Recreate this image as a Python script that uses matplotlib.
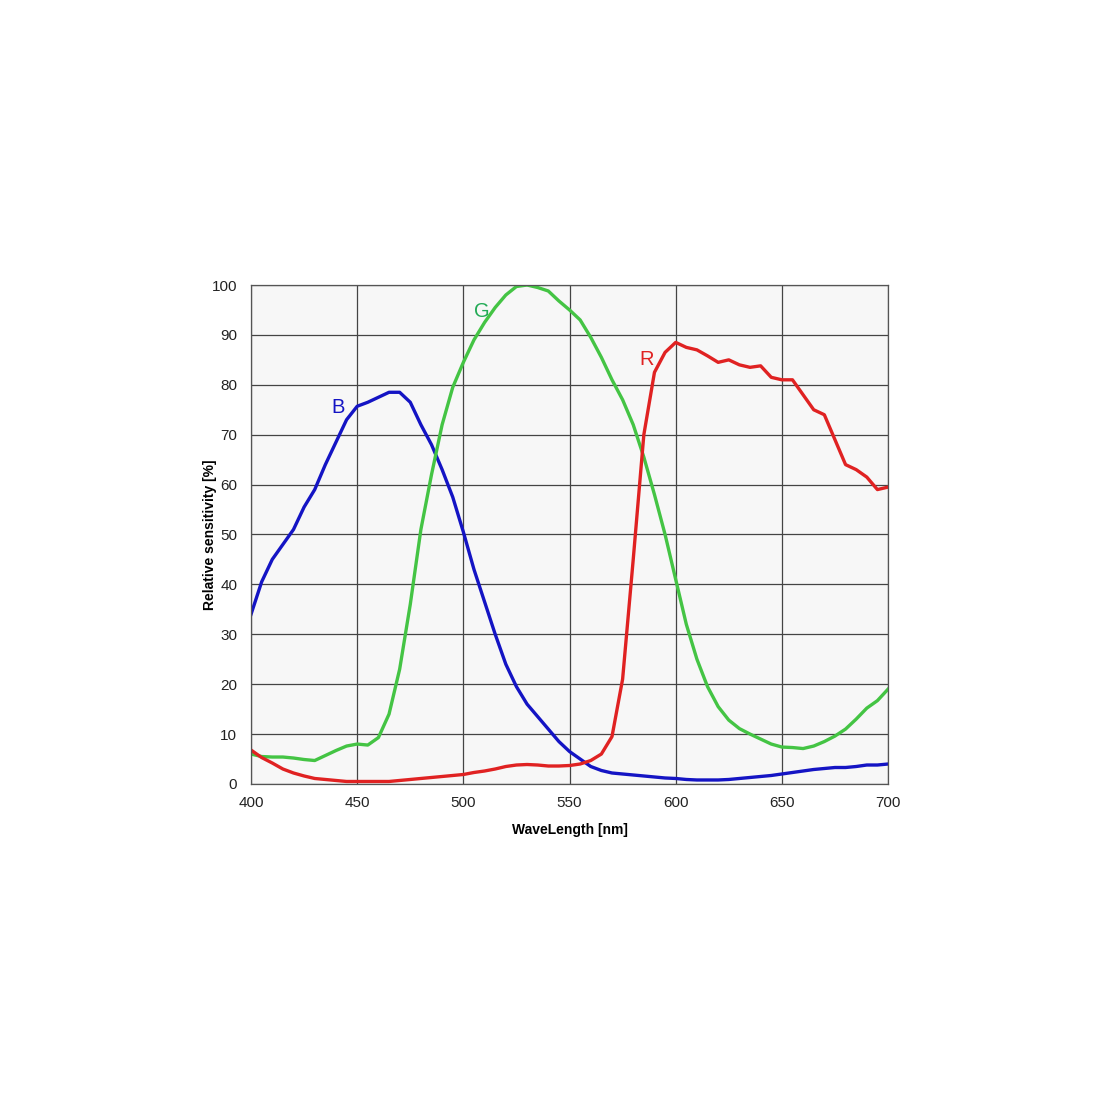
import matplotlib.pyplot as plt

plt.rcParams['font.family'] = ['Liberation Sans', 'DejaVu Sans']

# wavelength grid, 5 nm steps
wl = list(range(400, 701, 5))

# values (%)
blue = [34, 40.5, 45, 48, 51, 55.5, 59, 64, 68.5, 73, 75.7, 76.5, 77.5, 78.5, 78.5, 76.5,
        72, 68, 63, 57.5, 50.5, 43, 36.5, 30, 24, 19.5, 16, 13.5, 11, 8.5, 6.5, 5, 3.5,
        2.7, 2.2, 2.0, 1.8, 1.6, 1.4, 1.2, 1.1, 0.9, 0.8, 0.8, 0.8, 0.9, 1.1, 1.3, 1.5,
        1.7, 2.0, 2.3, 2.6, 2.9, 3.1, 3.3, 3.3, 3.5, 3.8, 3.8, 4.0]
green = [6, 5.5, 5.4, 5.4, 5.2, 4.9, 4.7, 5.7, 6.7, 7.6, 8.0, 7.8, 9.3, 14, 23, 36, 51, 62,
         72, 79.5, 84.5, 89, 92.5, 95.5, 98, 99.7, 100, 99.5, 98.8, 96.8, 95, 93, 89.5,
         85.5, 81, 77, 72, 65.5, 58, 50, 41, 32, 25, 19.5, 15.5, 12.8, 11.1, 10, 9, 8,
         7.4, 7.3, 7.1, 7.6, 8.5, 9.6, 11, 13, 15.2, 16.7, 19]
red = [6.8, 5.3, 4.2, 3, 2.2, 1.6, 1.1, 0.9, 0.7, 0.5, 0.5, 0.5, 0.5, 0.5, 0.7, 0.9, 1.1,
       1.3, 1.5, 1.7, 1.9, 2.3, 2.6, 3.0, 3.5, 3.8, 3.9, 3.8, 3.6, 3.6, 3.7, 4.0, 4.7,
       6.0, 9.5, 21, 45, 70, 82.5, 86.5, 88.5, 87.5, 87, 85.8, 84.5, 85, 84, 83.5, 83.8,
       81.5, 81, 81, 78, 75, 74, 69, 64, 63, 61.5, 59, 59.5]

x_ticks = [400, 450, 500, 550, 600, 650, 700]
y_ticks = list(range(0, 101, 10))

fig = plt.figure(figsize=(11, 11), dpi=100)
ax = fig.add_axes([0.2282, 0.2873, 0.5791, 0.4536])
ax.set_facecolor('#f7f7f7')

ax.plot(wl, blue, color='#1414c4', lw=2.4)
ax.plot(wl, green, color='#44c444', lw=2.4)
ax.plot(wl, red, color='#e02222', lw=2.4)

# curve labels
ax.text(437.7, 74.3, 'B', color='#1414c4', fontsize=14.5)
ax.text(505, 93.5, 'G', color='#22aa55', fontsize=14.5)
ax.text(582.8, 84, 'R', color='#e02222', fontsize=14.5)

ax.set_xlim(400, 700)
ax.set_ylim(0, 100)
ax.set_xticks(x_ticks)
ax.set_yticks(y_ticks)
ax.tick_params(length=0, labelsize=11, colors='#222222')
ax.tick_params(axis='y', pad=10)
ax.tick_params(axis='x', pad=9)
ax.grid(True, color='#444444', lw=0.9)
ax.set_axisbelow(True)
for s in ax.spines.values():
    s.set_color('#555555')
    s.set_linewidth(0.9)

ax.set_xlabel('WaveLength [nm]', fontsize=10, fontweight='bold', labelpad=9)
ax.set_ylabel('Relative sensitivity [%]', fontsize=10, fontweight='bold')
ax.yaxis.set_label_coords(-0.053, 0.5)

plt.savefig('out.png')
